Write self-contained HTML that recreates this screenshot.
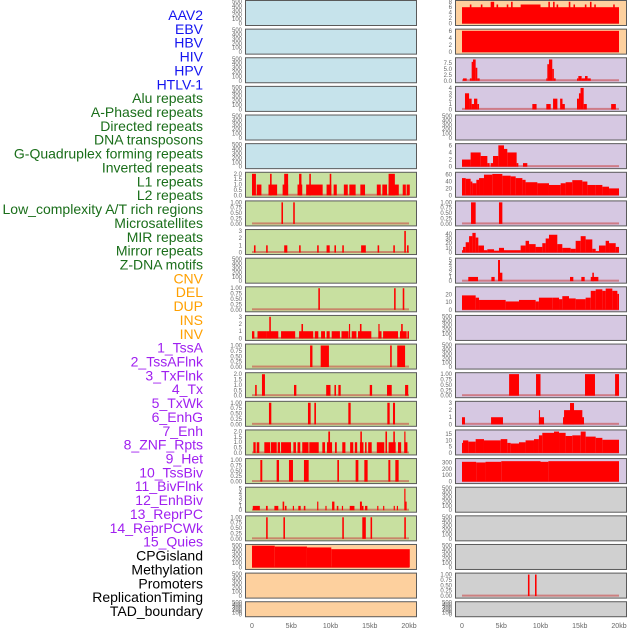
<!DOCTYPE html>
<html><head><meta charset="utf-8"><style>
body{margin:0;background:#fff;width:630px;height:630px;overflow:hidden;font-family:"Liberation Sans",sans-serif}
svg{display:block}
</style></head><body>
<svg id="chart" width="630" height="630" viewBox="0 0 630 630"></svg>
<script>
const trackNames=["AAV2","EBV","HBV","HIV","HPV","HTLV-1","Alu repeats","A-Phased repeats","Directed repeats","DNA transposons","G-Quadruplex forming repeats","Inverted repeats","L1 repeats","L2 repeats","Low_complexity A/T rich regions","Microsatellites","MIR repeats","Mirror repeats","Z-DNA motifs","CNV","DEL","DUP","INS","INV","1_TssA","2_TssAFlnk","3_TxFlnk","4_Tx","5_TxWk","6_EnhG","7_Enh","8_ZNF_Rpts","9_Het","10_TssBiv","11_BivFlnk","12_EnhBiv","13_ReprPC","14_ReprPCWk","15_Quies","CPGisland","Methylation","Promoters","ReplicationTiming","TAD_boundary"];
const xTicks=[0,5,10,15,20];
const xTickLabels=["0","5kb","10kb","15kb","20kb"];
const T500=[0,100,200,300,400,500], T1=[0,0.25,0.5,0.75,1], T2=[0,0.5,1,1.5,2], T3=[0,1,2,3], T5=[0,1,2,3,4,5];
// data segments [startKb,endKb,value]
const aluSeg=[[0,0.5,2],[0.6,1.2,1],[2.1,3.2,1],[2.3,2.5,2],[3.9,4.6,1],[4.1,4.6,2],[5.8,6.4,1],[6.0,6.3,2],[6.9,9.0,1],[7.3,7.5,2],[9.5,10.1,1],[9.9,10.1,2],[10.4,10.8,1],[11.7,12.2,1],[12.4,13.2,1],[13.8,14.4,1],[15.9,16.4,1],[16.6,17.2,1],[17.4,18.7,1],[17.4,18.2,2],[19.2,19.6,1],[19.7,20.1,1]];
const aphasedSeg=[[3.75,3.95,1],[5.25,5.45,1]];
const directedSeg=[[0.25,0.45,1],[1.8,2.0,1],[4.1,4.5,1],[6.0,6.2,1],[8.3,8.5,1],[9.5,9.9,1],[10.5,10.7,1],[11.5,11.7,1],[13.9,14.5,1],[16.0,16.2,1],[18.0,18.2,1],[19.4,19.6,3],[19.75,19.95,1]];
const gquadSeg=[[8.45,8.65,1],[18.1,18.3,1],[19.2,19.4,1]];
const invertedSeg=[[0,0.3,1],[0.7,1.9,1],[1.9,2.3,1],[2.2,2.4,3],[2.3,3.35,1],[3.7,5.5,1],[6.0,7.8,1],[6.3,6.5,2],[8.0,8.45,1],[8.8,9.3,1],[9.5,9.9,1],[10.15,11.2,1],[11.4,12.3,1],[12.35,12.5,2],[12.7,13.3,1],[13.5,15.2,1],[13.75,13.95,2],[16.1,16.5,1],[16.1,16.25,2],[16.7,18.6,1],[18.85,19.7,1],[19.0,19.2,2],[19.8,20.0,1]];
const l1Seg=[[7.4,7.7,1],[8.75,9.8,1],[17.6,17.8,1],[18.5,19.5,1]];
const l2Seg=[[0.4,0.6,1],[1.27,1.65,2],[5.35,5.65,1],[9.45,10.0,1],[10.5,10.7,1],[11.0,11.3,1],[15.0,15.3,1],[17.2,17.8,1],[19.5,19.9,1]];
const lowcSeg=[[2.16,2.46,1],[7.13,7.47,1],[7.94,8.15,1],[12.27,12.57,1],[17.24,17.54,1],[17.96,18.22,1]];
const microSeg=[[0.17,0.47,1],[0.6,0.93,1],[1.57,2.3,1],[2.4,3.15,1],[3.27,3.57,1],[3.7,4.97,1],[5.27,5.6,1],[5.8,6.15,1],[6.4,7.2,1],[7.3,8.5,1],[8.96,9.3,1],[9.55,10.2,1],[9.72,9.94,2],[10.57,10.8,1],[11.5,11.9,1],[12.5,12.9,1],[13.1,13.4,1],[13.75,14.2,1],[13.8,14.0,2],[14.4,14.6,1],[14.8,15.25,1],[15.9,16.85,1],[17.0,17.2,2],[17.4,18.3,1],[18.0,18.2,2],[18.6,19.0,1],[19.4,19.8,1],[19.4,19.55,2]];
const mirSeg=[[1.06,1.31,1],[3.14,3.44,1],[4.71,5.22,1],[6.62,7.22,1],[10.87,11.08,1],[13.2,13.55,1],[14.31,14.73,1],[17.37,17.62,1],[18.26,18.68,1]];
const mirrorSeg=[[0.1,1.0,1],[1.78,2.0,1],[2.85,3.35,1],[3.9,4.1,2],[4.2,4.4,1],[5.2,5.35,1],[5.9,6.2,1],[6.6,6.8,1],[8.3,8.45,2],[9.35,9.5,1],[10.2,10.5,2],[10.8,11.0,1],[11.45,11.6,1],[12.45,13.05,1],[13.75,14.0,2],[14.0,14.2,1],[14.4,14.7,1],[15.95,16.1,1],[16.7,16.85,1],[18.05,18.2,1],[18.45,18.6,1],[19.4,19.55,5],[19.55,19.7,2]];
const zdnaSeg=[[1.8,2.0,1],[4.0,4.2,1],[11.5,11.7,1],[14.05,14.5,1],[15.1,15.3,1],[19.4,19.6,1]];
const cnvSeg=[[0,2.9,500],[2.9,7,480],[7,10.1,460],[10.1,20.1,420]];
const insSeg=[[0,20,6],[1.0,1.2,7],[2.4,2.6,7],[3.65,4.1,8],[4.4,4.6,7],[5.7,5.9,7],[6.25,6.45,8],[7.47,10.0,7],[11.0,11.2,8],[11.6,11.8,8],[12.05,12.25,7],[13.6,13.8,8],[14.2,14.4,7],[15.65,15.85,7],[16.3,16.5,8],[16.85,17.05,7],[19.26,19.46,7]];
const invSeg=[[0,20,6]];
const tssaSeg=[[0.13,0.6,1],[1.0,1.23,1],[1.23,1.4,8],[1.4,1.74,9],[1.74,1.95,5.5],[1.95,2.25,1],[10.74,10.87,1],[10.87,11.08,7],[11.08,11.5,9],[11.5,11.7,5],[11.7,11.93,1],[14.65,14.82,1],[14.82,15.24,2],[15.24,15.67,1],[15.67,16.0,2],[16.0,16.4,1]];
const tssaflnkSeg=[[0.38,0.9,3],[0.9,1.23,2],[1.23,1.53,1],[1.53,1.95,2],[1.95,2.17,1],[8.96,9.5,1],[10.74,11.3,1],[11.6,12.15,2],[12.5,12.8,2],[12.8,13.1,1],[14.65,14.9,2],[14.9,15.1,3],[15.1,15.5,4],[15.5,15.9,1],[19.0,19.6,1]];
const txSeg=[[0,1.1,2],[1.1,2.38,4],[2.38,3.23,3],[3.23,3.52,1],[3.65,3.95,1],[3.95,4.63,3],[4.63,5.35,6],[5.35,5.77,5],[5.77,6.96,4],[6.96,7.18,1],[7.77,8.32,1]];
const txwkBreaks=[0,0.47,1.1,1.32,1.83,2.17,2.8,3.86,5.14,6.2,6.84,7.69,8.1,9.6,11.08,12.57,13.2,14.05,15.33,15.97,17.03,17.88,18.73,20.0];
const txwkVals=[50,48,40,35,45,50,60,62,57,55,50,45,38,35,30,35,38,44,40,30,30,25,20];
const enhgSeg=[[1.15,1.74,1],[4.71,5.14,1]];
const enhBreaks=[0,0.13,0.47,0.9,1.32,1.74,2.08,2.8,3.23,4.08,4.71,5.35,7.47,8.1,8.54,9.38,10.23,10.66,11.08,12.14,12.78,13.84,14.48,15.12,15.75,16.6,17.03,17.45,18.3,18.73,19.58,20];
const enhVals=[5,12,22,35,42,32,15,5,7,4,10,5,15,25,18,12,20,30,38,18,10,8,25,35,28,8,3,15,25,20,12];
const znfSeg=[[0.8,2.04,1],[3.74,4.16,1],[4.59,4.84,5],[4.84,5.14,2],[13.76,14.18,1],[15.2,15.63,1],[16.4,17.37,1],[16.6,16.8,2]];
const hetBreaks=[0,1.74,2.17,5.56,7.26,9.38,9.8,11.5,12.36,12.78,13.63,14.48,15.75,16.4,17.03,17.88,18.3,19.15,19.79,20];
const hetVals=[19,16,13,11,13,11,16,16,14,18,15,14,16,25,27,25,28,25,21];
const enhbivSeg=[[6.0,7.26,1],[9.43,10.0,1],[15.67,16.94,1],[19.5,20.0,1]];
const reprpcSeg=[[0,0.38,1],[3.7,5.22,1],[9.8,10.45,1],[9.8,9.94,2],[12.87,15.54,1],[13.0,15.33,2],[13.76,14.27,3]];
const reprwkBreaks=[0,0.13,0.8,1.74,2.8,4.93,5.77,6.2,7.26,8.1,9.17,9.8,10.23,11.72,12.36,13.2,14.05,15.12,15.75,17.03,17.88,20];
const reprwkVals=[8,10,9,11,10,11,8,7.5,8.5,10,11,14,16,17,16,13.5,14,17,13,12,10.5];
const quiesSeg=[[0,1.8,310],[1.8,3,300],[3,5,310],[5,10,320],[10,11,310],[11,20,320]];
const reptimeSeg=[[8.4,8.6,1],[9.3,9.5,1]];

function fromSteps(b,v){const s=[];for(let i=0;i<v.length;i++)s.push([b[i],b[i+1],v[i]]);return s;}
const E={seg:[],max:500,ticks:T500};
const tracks=[
{c:"#c6e3eb",...E},{c:"#c6e3eb",...E},{c:"#c6e3eb",...E},{c:"#c6e3eb",...E},{c:"#c6e3eb",...E},{c:"#c6e3eb",...E},
{c:"#c8e0a0",seg:aluSeg,max:2.05,ticks:T2,fmt:1},
{c:"#c8e0a0",seg:aphasedSeg,max:1.02,ticks:T1,fmt:2},
{c:"#c8e0a0",seg:directedSeg,max:3.05,ticks:T3},
{c:"#c8e0a0",...E},
{c:"#c8e0a0",seg:gquadSeg,max:1.02,ticks:T1,fmt:2},
{c:"#c8e0a0",seg:invertedSeg,max:3.05,ticks:T3},
{c:"#c8e0a0",seg:l1Seg,max:1.02,ticks:T1,fmt:2},
{c:"#c8e0a0",seg:l2Seg,max:2.05,ticks:T2,fmt:1},
{c:"#c8e0a0",seg:lowcSeg,max:1.02,ticks:T1,fmt:2},
{c:"#c8e0a0",seg:microSeg,max:2.05,ticks:T2,fmt:1},
{c:"#c8e0a0",seg:mirSeg,max:1.02,ticks:T1,fmt:2},
{c:"#c8e0a0",seg:mirrorSeg,max:5.1,ticks:T5},
{c:"#c8e0a0",seg:zdnaSeg,max:1.02,ticks:T1,fmt:2},
{c:"#fdd09e",seg:cnvSeg,max:505,ticks:T500},
{c:"#fdd09e",...E},{c:"#fdd09e",...E},
{c:"#fdd09e",seg:insSeg,max:8.1,ticks:[0,2,4,6,8]},
{c:"#fdd09e",seg:invSeg,max:6.2,ticks:[0,2,4,6]},
{c:"#d6c8e2",seg:tssaSeg,max:9.3,ticks:[0,2.5,5,7.5],fmt:1},
{c:"#d6c8e2",seg:tssaflnkSeg,max:4.1,ticks:[0,1,2,3,4]},
{c:"#d6c8e2",...E},
{c:"#d6c8e2",seg:txSeg,max:6.2,ticks:[0,2,4,6]},
{c:"#d6c8e2",seg:fromSteps(txwkBreaks,txwkVals),max:64,ticks:[0,20,40,60]},
{c:"#d6c8e2",seg:enhgSeg,max:1.02,ticks:T1,fmt:2},
{c:"#d6c8e2",seg:fromSteps(enhBreaks,enhVals),max:47,ticks:[0,10,20,30,40]},
{c:"#d6c8e2",seg:znfSeg,max:5.2,ticks:T5},
{c:"#d6c8e2",seg:fromSteps(hetBreaks,hetVals),max:29,ticks:[0,10,20]},
{c:"#d6c8e2",...E},{c:"#d6c8e2",...E},
{c:"#d6c8e2",seg:enhbivSeg,max:1.02,ticks:T1,fmt:2},
{c:"#d6c8e2",seg:reprpcSeg,max:3.1,ticks:T3},
{c:"#d6c8e2",seg:fromSteps(reprwkBreaks,reprwkVals),max:17.5,ticks:[0,5,10,15]},
{c:"#d6c8e2",seg:quiesSeg,max:345,ticks:[0,100,200,300]},
{c:"#d0d0d0",...E},{c:"#d0d0d0",...E},{c:"#d0d0d0",...E},
{c:"#d0d0d0",seg:reptimeSeg,max:1.02,ticks:T1,fmt:2},
{c:"#d0d0d0",...E}
];
const labelColors=[];
trackNames.forEach((n,i)=>labelColors.push(i<6?"#1414f0":i<19?"#1a6e1a":i<24?"#ffa000":i<39?"#a020f0":"#000"));

const NS="http://www.w3.org/2000/svg";
const svg=document.getElementById('chart');
function mk(tag,attrs,parent){const e=document.createElementNS(NS,tag);for(const k in attrs)e.setAttribute(k,attrs[k]);(parent||svg).appendChild(e);return e;}

// labels
trackNames.forEach((n,i)=>{
  const t=mk('text',{x:203,y:15+i*13.86+5,'text-anchor':'end','font-size':14,fill:labelColors[i],'font-family':'Liberation Sans, sans-serif'});
  t.textContent=n;
  
  
});

const colX=[245,455], panelW=171, step=28.63;
function xScale(col,kb){return colX[col]+7+kb*7.85;}
tracks.forEach((tr,i)=>{
  const col=i<22?0:1, row=i%22;
  const top=row*step, h=row===21?15:25;
  const g=mk('g',{});
  
  
  mk('rect',{x:colX[col]+0.5,y:top+0.5,width:panelW,height:h,fill:tr.c,stroke:'#5a5a5a','stroke-width':1},g);
  const y0=top+h-1.5, y1=top+1.5;
  const yScale=v=>y0-(v/tr.max)*(y0-y1);
  // ticks
  tr.ticks.forEach(v=>{
    const t=mk('text',{x:colX[col]-3,y:yScale(v)+2,'text-anchor':'end','font-size':6,fill:'#666'},g);
    t.textContent=tr.fmt?v.toFixed(tr.fmt):String(v);
  });
  if(tr.seg.length){
    mk('rect',{x:xScale(col,0),y:y0-1.5,width:xScale(col,20)-xScale(col,0),height:2,fill:'rgba(200,60,60,0.55)'},g);
  }
  tr.seg.forEach(s=>{
    const r=mk('rect',{x:xScale(col,s[0]),y:yScale(s[2]),width:Math.max(1,xScale(col,s[1])-xScale(col,s[0])),height:y0-yScale(s[2]),fill:'#ff0000'},g);
    
    
  });
});
// x axes
[0,1].forEach(col=>{
  xTicks.forEach((v,j)=>{
    const t=mk('text',{x:xScale(col,v),y:628,'text-anchor':'middle','font-size':7,fill:'#666'});
    t.textContent=xTickLabels[j];
    
    
  });
});
</script>
</body></html>
